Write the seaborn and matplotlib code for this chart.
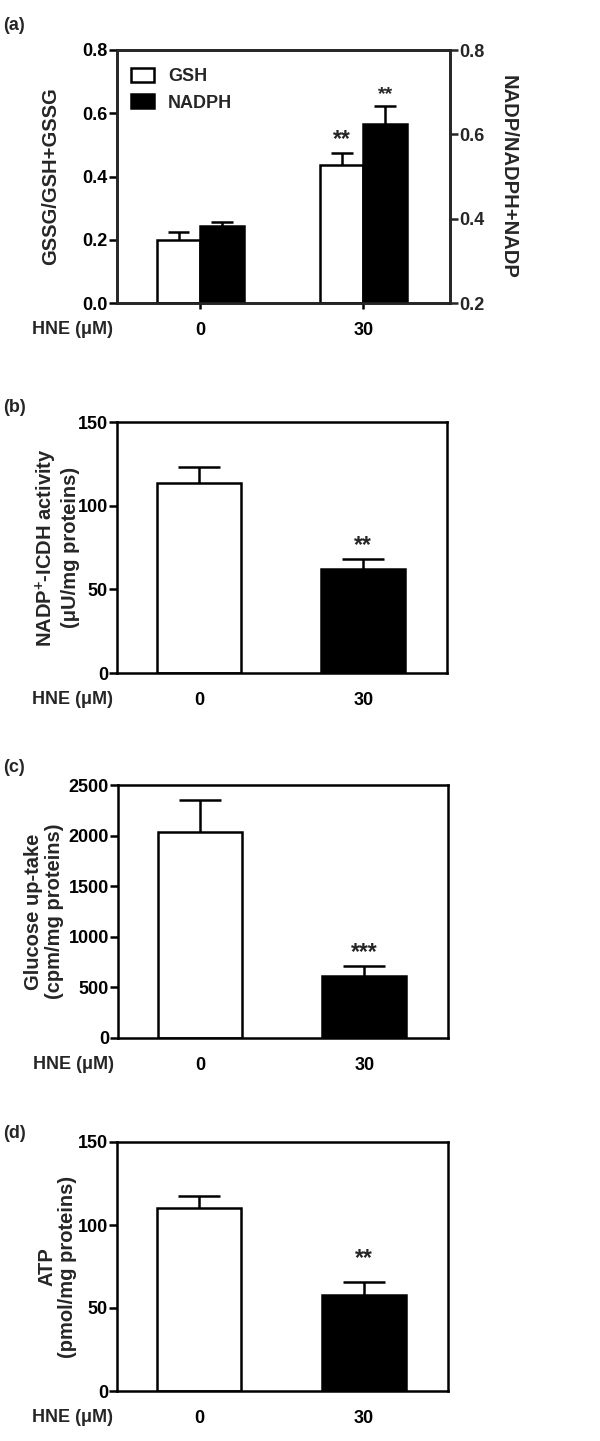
import numpy as np
import pandas as pd
import matplotlib
matplotlib.use("Agg")
import matplotlib.pyplot as plt
import matplotlib.patches as mpatches
import matplotlib.transforms as mtransforms
import seaborn as sns

# ---------------- data ----------------
hne_levels = ["0", "30"]
series_names = ["GSH", "NADPH"]

gsh_ratio = [0.200, 0.437]
gsh_sem = [0.026, 0.037]
nadph_ratio = [0.382, 0.624]
nadph_sem = [0.010, 0.043]
a_stars_gsh = ["", "**"]
a_stars_nadph = ["", "**"]

icdh_activity = [113.7, 62.1]
icdh_sem = [9.5, 6.0]
b_stars = ["", "**"]

glucose_uptake = [2033, 614]
glucose_sem = [322, 99]
c_stars = ["", "***"]

atp_level = [110.0, 57.6]
atp_sem = [7.4, 7.8]
d_stars = ["", "**"]

# ---------------- style ----------------
sns.set_style("ticks")
plt.rcParams["font.family"] = ["Liberation Sans", "DejaVu Sans"]
plt.rcParams["font.weight"] = "bold"
plt.rcParams["axes.labelweight"] = "bold"
plt.rcParams["mathtext.fontset"] = "custom"
plt.rcParams["mathtext.rm"] = "Liberation Sans:bold"
plt.rcParams["mathtext.bf"] = "Liberation Sans:bold"
plt.rcParams["mathtext.it"] = "Liberation Sans:bold"
plt.rcParams["mathtext.default"] = "bf"

FS = 13        # tick labels, legend, HNE label
FS_LAB = 14.5  # y-axis titles
FS_STAR = 16.5
LW = 1.8
W, H = 600, 1441
fig = plt.figure(figsize=(W / 100, H / 100), dpi=100)
fig.patch.set_facecolor("white")


def add_axes_px(left, top, right, bottom):
    return fig.add_axes([left / W, 1 - bottom / H, (right - left) / W, (bottom - top) / H])


def style_axes(ax, xticks=False):
    for s in ax.spines.values():
        s.set_linewidth(LW)
        s.set_color("black")
        s.set_visible(True)
    ax.tick_params(axis="y", direction="out", length=5.5, width=LW, labelsize=FS, pad=1, colors="black")
    ax.tick_params(axis="x", direction="out", length=4 if xticks else 0, width=LW, labelsize=FS,
                   pad=14 if not xticks else 10, colors="black")
    for lab in ax.get_xticklabels() + ax.get_yticklabels():
        lab.set_fontweight("bold")
    ax.set_xlabel("")
    tr = ax.transAxes + mtransforms.ScaledTranslation(0, -18 / 100, fig.dpi_scale_trans)
    ax.text(-0.012, 0, "HNE (μM)", transform=tr, ha="right", va="top",
            fontsize=FS, fontweight="bold")


def errbars(ax, patches_list, sems, color="black"):
    for p, e in zip(patches_list, sems):
        xc = p.get_x() + p.get_width() / 2
        top = p.get_height()
        ax.plot([xc, xc], [top, top + e], color=color, lw=LW, solid_capstyle="butt", zorder=5)
        cap_half = p.get_width() / 4
        ax.plot([xc - cap_half, xc + cap_half], [top + e, top + e], color=color, lw=LW,
                solid_capstyle="butt", zorder=5)


def stars(ax, patches_list, sems, labels, dy_pt, size=FS_STAR):
    for p, e, s in zip(patches_list, sems, labels):
        if not s:
            continue
        xc = p.get_x() + p.get_width() / 2
        ax.annotate(s, (xc, p.get_height() + e), xytext=(0, dy_pt), textcoords="offset points",
                    ha="center", va="center", fontsize=size, fontweight="bold")


def panel_letter(text, y_px):
    fig.text(3 / W, 1 - y_px / H, text, ha="left", va="center", fontsize=FS, fontweight="bold")


# ---------------- panel (a) ----------------
ax = add_axes_px(117, 50, 450, 303)
ax2 = ax.twinx()
df_g = pd.DataFrame({"HNE": hne_levels, "value": gsh_ratio, "series": "GSH"})
df_n = pd.DataFrame({"HNE": hne_levels, "value": nadph_ratio, "series": "NADPH"})
pal = {"GSH": "white", "NADPH": "black"}
sns.barplot(data=df_g, x="HNE", y="value", hue="series", hue_order=series_names, order=hne_levels,
            palette=pal, edgecolor="black", linewidth=LW, width=0.53, errorbar=None, dodge=True,
            legend=False, ax=ax, saturation=1)
sns.barplot(data=df_n, x="HNE", y="value", hue="series", hue_order=series_names, order=hne_levels,
            palette=pal, edgecolor="black", linewidth=LW, width=0.53, errorbar=None, dodge=True,
            legend=False, ax=ax2, saturation=1)
gp = sorted([p for p in ax.patches if p.get_height() > 0], key=lambda p: p.get_x())
npch = sorted([p for p in ax2.patches if p.get_height() > 0], key=lambda p: p.get_x())
errbars(ax, gp, gsh_sem)
errbars(ax2, npch, nadph_sem)
stars(ax, gp, gsh_sem, a_stars_gsh, 9.7, FS_STAR)
stars(ax2, npch, nadph_sem, a_stars_nadph, 8.6, 14)
ax.set_ylim(0, 0.8)
ax.set_yticks([0.0, 0.2, 0.4, 0.6, 0.8])
ax.set_yticklabels(["0.0", "0.2", "0.4", "0.6", "0.8"])
ax2.set_ylim(0.2, 0.8)
ax2.set_yticks([0.2, 0.4, 0.6, 0.8])
ax2.set_yticklabels(["0.2", "0.4", "0.6", "0.8"])
ax.set_xlim(-0.51, 1.53)
ax2.set_xlim(-0.51, 1.53)
style_axes(ax, xticks=True)
for s in ax2.spines.values():
    s.set_linewidth(LW)
ax2.tick_params(axis="y", direction="out", length=5.5, width=LW, labelsize=FS, pad=1)
for lab in ax2.get_yticklabels():
    lab.set_fontweight("bold")
ax2.set_ylabel("NADP/NADPH+NADP", rotation=270, fontsize=FS_LAB, fontweight="bold", va="center")
ax2.yaxis.set_label_coords(1.174, 0.5)
ax2.set_xlabel("")
ax.set_ylabel("GSSG/GSH+GSSG", fontsize=FS_LAB, fontweight="bold", va="center")
ax.yaxis.set_label_coords(-0.2, 0.5)
handles = [mpatches.Patch(facecolor=pal[n], edgecolor="black", linewidth=LW, label=n) for n in series_names]
ax.legend(handles=handles, loc="upper left", bbox_to_anchor=(0.042, 0.928), frameon=False,
          handlelength=1.3, handleheight=0.8, handletextpad=0.75, labelspacing=0.5,
          borderpad=0, borderaxespad=0, prop={"weight": "bold", "size": FS})
panel_letter("(a)", 26)


def single_panel(box, values, sems, star_labels, ylim, yticks, ylabel, label_x, star_dy, letter, letter_y):
    ax = add_axes_px(*box)
    df = pd.DataFrame({"HNE": hne_levels, "value": values})
    sns.barplot(data=df, x="HNE", y="value", hue="HNE", order=hne_levels, hue_order=hne_levels,
                palette={"0": "white", "30": "black"}, edgecolor="black", linewidth=LW,
                width=0.51, errorbar=None, legend=False, ax=ax, saturation=1)
    ps = sorted([p for p in ax.patches if p.get_height() > 0], key=lambda p: p.get_x())
    errbars(ax, ps, sems)
    stars(ax, ps, sems, star_labels, star_dy, FS_STAR)
    ax.set_ylim(*ylim)
    ax.set_yticks(yticks)
    ax.set_xlim(-0.5, 1.51)
    style_axes(ax, xticks=False)
    ax.set_ylabel(ylabel, fontsize=FS_LAB, fontweight="bold", va="center", linespacing=1.1)
    ax.yaxis.set_label_coords(label_x, 0.5)
    panel_letter(letter, letter_y)
    return ax


single_panel((117, 422, 447, 673), icdh_activity, icdh_sem, b_stars, (0, 150), [0, 50, 100, 150],
             "NADP$^{+}$-ICDH activity\n(μU/mg proteins)", -0.182, 9.7, "(b)", 407)
single_panel((118, 785, 448, 1038), glucose_uptake, glucose_sem, c_stars, (0, 2500),
             [0, 500, 1000, 1500, 2000, 2500],
             "Glucose up-take\n(cpm/mg proteins)", -0.224, 9.7, "(c)", 767)
single_panel((117, 1142, 448, 1391), atp_level, atp_sem, d_stars, (0, 150), [0, 50, 100, 150],
             "ATP\n(pmol/mg proteins)", -0.18, 17, "(d)", 1133)

fig.savefig("out.png", dpi=100, facecolor="white")
